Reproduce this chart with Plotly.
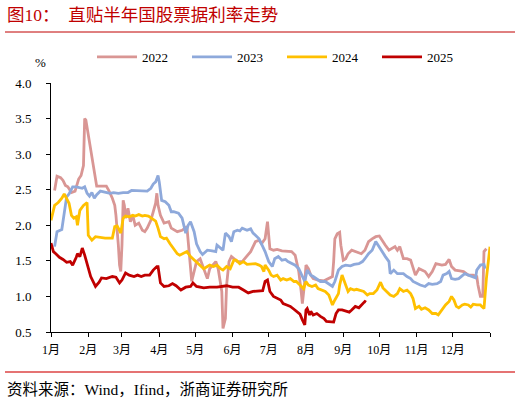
import plotly.graph_objects as go

# === 数据（按日序号，0 = 1月1日）===
days_2022 = [3, 5, 8, 10, 12, 14, 17, 20, 23, 25, 27, 28, 29, 31, 34, 37, 38, 42, 46, 48,
             51, 53, 54, 56, 57, 58, 59, 60, 61, 62, 64, 66, 68, 70, 73, 76, 78, 80, 83, 85,
             87, 88, 89, 91, 94, 98, 100, 105, 109, 113, 114, 116, 117, 119, 121, 124, 127, 130, 132, 137,
             139, 142, 143, 145, 146, 148, 150, 155, 159, 161, 166, 170, 173, 175, 178, 180, 182, 185, 188, 192,
             196, 200, 203, 206, 208, 209, 211, 212, 214, 216, 218, 222, 227, 231, 234, 235, 236, 238, 240, 241,
             243, 245, 247, 250, 254, 258, 261, 264, 267, 270, 273, 275, 278, 281, 283, 286, 288, 290, 293, 296,
             299, 301, 303, 306, 308, 311, 314, 317, 320, 322, 325, 328, 331, 333, 336, 340, 343, 347, 351, 354,
             355, 357, 359, 360, 362]
rate_2022 = [2.49, 2.69, 2.67, 2.63, 2.56, 2.54, 2.46, 2.48, 2.65, 2.70, 2.84, 3.50, 3.48, 3.27, 2.94, 2.66, 2.55, 2.55, 2.55, 2.49,
             2.38, 2.28, 2.14, 1.72, 1.44, 1.35, 1.72, 2.35, 2.28, 2.10, 2.24, 2.05, 2.14, 2.00, 2.03, 1.93, 1.91, 1.96, 2.07, 2.19,
             2.31, 2.45, 2.28, 2.14, 2.03, 2.05, 1.96, 1.91, 1.93, 1.98, 1.81, 1.44, 1.21, 1.35, 1.49, 1.53, 1.39, 1.25, 1.39, 1.49,
             1.39, 1.07, 0.55, 0.69, 1.16, 1.49, 1.56, 1.49, 1.49, 1.53, 1.63, 1.77, 1.79, 1.74, 1.81, 2.05, 1.67, 1.65, 1.66, 1.64,
             1.64, 1.63, 1.58, 1.35, 1.07, 0.90, 1.21, 1.44, 1.39, 1.30, 1.25, 1.23, 1.22, 1.25, 1.28, 1.49, 1.81, 1.88, 1.90, 1.72,
             1.51, 1.53, 1.60, 1.65, 1.63, 1.60, 1.65, 1.77, 1.81, 1.84, 1.85, 1.79, 1.72, 1.65, 1.67, 1.70, 1.65, 1.70, 1.53, 1.53,
             1.51, 1.39, 1.30, 1.39, 1.37, 1.35, 1.28, 1.35, 1.46, 1.45, 1.44, 1.45, 1.52, 1.42, 1.37, 1.36, 1.35, 1.30, 1.30, 1.28,
             1.16, 1.00, 1.00, 1.63, 1.67]

days_2023 = [3, 5, 9, 11, 13, 15, 18, 21, 23, 26, 28, 30, 32, 34, 36, 38, 41, 45, 49, 52,
             56, 60, 64, 67, 71, 76, 80, 83, 85, 87, 89, 90, 92, 95, 98, 100, 102, 106, 109, 112,
             114, 116, 119, 121, 124, 126, 130, 134, 137, 138, 141, 143, 145, 148, 150, 152, 155, 157, 159, 163,
             166, 168, 170, 173, 175, 178, 181, 184, 186, 189, 192, 195, 197, 200, 203, 206, 209, 211, 213, 216,
             218, 221, 224, 228, 231, 234, 236, 239, 242, 245, 249, 252, 256, 259, 261, 264, 267, 270, 272, 275,
             278, 281, 282, 285, 288, 290, 293, 296, 299, 301, 304, 307, 311, 314, 317, 321, 324, 326, 329, 331,
             333, 336, 339, 342, 344, 347, 350, 353, 354, 357, 360, 361]
rate_2023 = [1.70, 1.91, 1.94, 2.17, 2.40, 2.44, 2.54, 2.54, 2.53, 2.52, 2.54, 2.45, 2.41, 2.46, 2.38, 2.43, 2.48, 2.47, 2.45, 2.46,
             2.45, 2.46, 2.46, 2.49, 2.49, 2.49, 2.48, 2.52, 2.58, 2.61, 2.70, 2.61, 2.35, 2.33, 2.28, 2.19, 2.19, 2.17, 2.10, 1.89,
             2.00, 2.05, 1.91, 1.74, 1.63, 1.59, 1.65, 1.64, 1.63, 1.72, 1.67, 1.65, 1.89, 1.84, 1.77, 1.91, 1.93, 1.92, 1.96, 1.93,
             1.95, 1.89, 1.86, 1.81, 1.74, 1.63, 1.49, 1.42, 1.53, 1.56, 1.51, 1.52, 1.49, 1.46, 1.44, 1.39, 1.28, 1.21, 1.37, 1.30,
             1.28, 1.25, 1.21, 1.21, 1.18, 1.14, 1.21, 1.37, 1.42, 1.44, 1.43, 1.45, 1.46, 1.49, 1.53, 1.60, 1.65, 1.77, 1.72, 1.63,
             1.56, 1.49, 1.32, 1.37, 1.32, 1.32, 1.32, 1.28, 1.25, 1.21, 1.18, 1.16, 1.14, 1.18, 1.17, 1.18, 1.21, 1.30, 1.32, 1.35,
             1.25, 1.24, 1.25, 1.30, 1.32, 1.30, 1.28, 1.26, 1.37, 1.44, 1.45, 1.39]

days_2024 = [0, 3, 6, 9, 11, 13, 15, 17, 19, 21, 22, 24, 27, 30, 31, 34, 37, 45, 51, 53,
             55, 56, 58, 60, 62, 65, 68, 70, 73, 76, 78, 81, 84, 87, 89, 91, 94, 96, 99, 102,
             105, 107, 110, 113, 116, 119, 121, 124, 127, 130, 132, 135, 138, 141, 143, 146, 149, 152, 154, 157,
             160, 163, 167, 170, 173, 175, 177, 178, 181, 183, 185, 188, 191, 193, 196, 199, 202, 204, 207, 210,
             212, 214, 217, 220, 222, 225, 228, 231, 233, 234, 236, 239, 240, 242, 245, 247, 249, 252, 254, 257,
             260, 263, 265, 268, 271, 274, 276, 279, 282, 285, 288, 290, 293, 296, 299, 301, 303, 306, 308, 311,
             314, 317, 320, 322, 325, 328, 331, 333, 335, 337, 339, 342, 344, 347, 349, 351, 354, 357, 358, 360,
             362, 364, 365]
rate_2024 = [2.07, 2.28, 2.32, 2.38, 2.44, 2.38, 2.31, 2.14, 2.10, 2.12, 2.00, 2.21, 2.28, 2.32, 1.86, 1.79, 1.84, 1.82, 1.82, 1.98,
             1.99, 1.96, 1.89, 2.10, 2.13, 2.12, 2.14, 2.13, 2.15, 2.13, 2.14, 2.13, 2.10, 2.06, 1.96, 1.84, 1.81, 1.82, 1.74, 1.67,
             1.60, 1.58, 1.60, 1.63, 1.56, 1.51, 1.49, 1.44, 1.39, 1.42, 1.44, 1.42, 1.44, 1.39, 1.37, 1.42, 1.39, 1.51, 1.51, 1.46,
             1.49, 1.45, 1.45, 1.46, 1.44, 1.42, 1.35, 1.44, 1.37, 1.30, 1.28, 1.30, 1.23, 1.25, 1.23, 1.25, 1.21, 1.21, 1.16, 1.11,
             1.21, 1.16, 1.14, 1.16, 1.11, 1.09, 1.07, 1.02, 0.93, 0.88, 0.95, 1.04, 1.16, 1.30, 1.16, 1.07, 1.11, 1.09, 1.10, 1.09,
             1.07, 1.02, 1.04, 1.04, 1.09, 1.20, 1.12, 1.07, 1.02, 1.00, 1.04, 1.11, 1.07, 1.09, 1.04, 0.97, 0.83, 0.86, 0.82, 0.84,
             0.81, 0.76, 0.76, 0.74, 0.81, 0.88, 0.93, 1.00, 0.95, 0.86, 0.84, 0.88, 0.89, 0.88, 0.85, 0.89, 0.88, 0.88, 0.86, 0.83,
             1.25, 1.58, 1.70]

days_2025 = [0, 2, 4, 7, 10, 13, 16, 18, 21, 22, 24, 26, 28, 30, 33, 37, 40, 42, 46, 51,
             54, 57, 59, 62, 65, 69, 72, 75, 78, 82, 85, 88, 89, 91, 94, 98, 101, 104, 108, 112,
             116, 118, 121, 127, 132, 138, 142, 146, 151, 156, 160, 164, 168, 172, 176, 178, 180, 182, 185, 191,
             193, 196, 199, 202, 204, 207, 209, 211, 212, 213, 215, 216, 218, 221, 224, 227, 229, 232, 235, 237,
             239, 242, 245, 248, 250, 253, 256, 258, 261, 262]
rate_2025 = [1.75, 1.63, 1.60, 1.55, 1.52, 1.48, 1.49, 1.44, 1.55, 1.60, 1.56, 1.68, 1.58, 1.45, 1.28, 1.14, 1.20, 1.26, 1.25, 1.28,
             1.27, 1.19, 1.23, 1.33, 1.30, 1.28, 1.30, 1.28, 1.30, 1.30, 1.37, 1.42, 1.42, 1.19, 1.14, 1.15, 1.18, 1.15, 1.09, 1.13,
             1.14, 1.19, 1.14, 1.12, 1.13, 1.13, 1.14, 1.15, 1.13, 1.13, 1.09, 1.05, 1.07, 1.07, 1.08, 1.21, 1.23, 1.07, 1.00, 0.95,
             0.90, 0.88, 0.86, 0.82, 0.79, 0.75, 0.67, 0.60, 0.81, 0.83, 0.74, 0.79, 0.74, 0.76, 0.72, 0.69, 0.65, 0.64, 0.64, 0.76,
             0.81, 0.81, 0.79, 0.78, 0.81, 0.86, 0.84, 0.88, 0.93, 0.92]

month_starts = [0, 31, 59, 90, 120, 151, 181, 212, 243, 273, 304, 334, 365]
month_labels = ["1月", "2月", "3月", "4月", "5月", "6月", "7月", "8月", "9月", "10月", "11月", "12月", ""]
y_ticks = [0.5, 1.0, 1.5, 2.0, 2.5, 3.0, 3.5, 4.0]

series = [
    ("2022", days_2022, rate_2022, "#D99694"),
    ("2023", days_2023, rate_2023, "#8EA9DB"),
    ("2024", days_2024, rate_2024, "#FFC000"),
    ("2025", days_2025, rate_2025, "#C00000"),
]

serif = "Liberation Serif, Noto Sans CJK SC, serif"
W, H = 520, 403
L, R, T, B = 51, 30, 83, 71
pw, ph = W - L - R, H - T - B


def px(x):
    return (x - L) / pw


def py(y):
    return (H - B - y) / ph


fig = go.Figure()
for name, d, v, col in series:
    fig.add_trace(go.Scatter(x=d, y=v, mode="lines", name=name,
                             line=dict(color=col, width=2.8)))

fig.update_layout(
    width=W, height=H,
    margin=dict(l=L, r=R, t=T, b=B),
    plot_bgcolor="white", paper_bgcolor="white",
    font=dict(family=serif, size=12, color="black"),
    showlegend=True,
    legend=dict(orientation="h", x=px(92), y=py(57), xanchor="left", yanchor="middle",
                itemwidth=40, entrywidth=40, entrywidthmode="pixels", font=dict(size=13),
                bgcolor="rgba(0,0,0,0)", tracegroupgap=0),
    xaxis=dict(range=[0, 365], tickvals=month_starts, ticktext=month_labels,
               showline=True, linecolor="black", linewidth=1, ticks="outside",
               ticklen=4, tickcolor="black", showgrid=False, zeroline=False,
               tickfont=dict(size=12), ticklabelstandoff=3),
    yaxis=dict(range=[0.5, 4.0], tickvals=y_ticks, tickformat=".1f",
               showline=True, linecolor="black", linewidth=1, ticks="outside",
               ticklen=4, tickcolor="black", showgrid=False, zeroline=False,
               tickfont=dict(size=13), ticklabelstandoff=12),
    shapes=[
        dict(type="line", xref="paper", yref="paper", x0=px(5), x1=px(515),
             y0=py(32), y1=py(32), line=dict(color="#C00000", width=1)),
        dict(type="line", xref="paper", yref="paper", x0=px(5), x1=px(515),
             y0=py(372), y1=py(372), line=dict(color="#E57373", width=2)),
    ],
    annotations=[
        dict(text="图10：  直贴半年国股票据利率走势", xref="paper", yref="paper",
             x=px(5), y=py(15), xanchor="left", yanchor="middle", showarrow=False,
             font=dict(size=17.5, color="#C00000", family=serif)),
        dict(text="%", xref="paper", yref="paper", x=px(40), y=py(62),
             xanchor="center", yanchor="middle", showarrow=False,
             font=dict(size=13)),
        dict(text="资料来源：Wind，Ifind，浙商证券研究所", xref="paper", yref="paper",
             x=px(5), y=py(389), xanchor="left", yanchor="middle", showarrow=False,
             font=dict(size=15.5)),
    ],
)

# 去掉页面默认的 8px 边距，使图表与窗口对齐
fig.write_html("out.html", config={"displayModeBar": False},
               post_script="document.body.style.margin='0';")
